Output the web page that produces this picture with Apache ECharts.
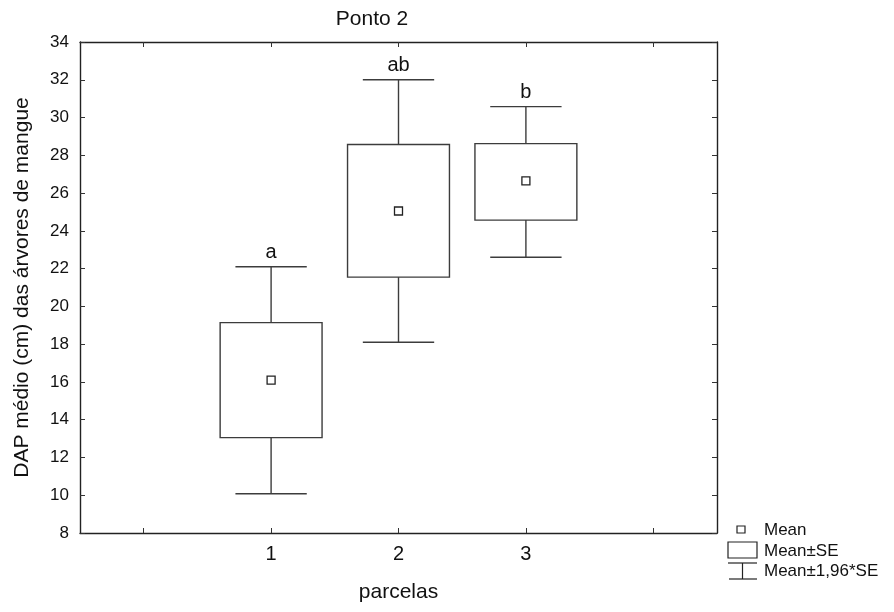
<!DOCTYPE html>
<html><head><meta charset="utf-8">
<script src="https://cdn.jsdelivr.net/npm/echarts@6/dist/echarts.min.js"></script>
<style>html,body{margin:0;padding:0;background:#fff}#c{width:894px;height:612px}</style>
</head><body><div id="c"></div>
<script>
const axisCategories = ['0', '1', '2', '3', '4'];
const shownLabels = ['1', '2', '3'];
const categories = ['1', '2', '3'];
const means = [16.1, 25.05, 26.65];
const seLow = [13.05, 21.55, 24.57];
const seHigh = [19.14, 28.57, 28.62];
const ciLow = [10.08, 18.1, 22.6];
const ciHigh = [22.1, 32.0, 30.58];
const groupLetters = ['a', 'ab', 'b'];
const yTicks = [8, 34, 2];

const LINE = '#3c3c3c';
const FONT = 'Liberation Sans, Arial, sans-serif';
const data = categories.map((c, i) => [c, means[i], seLow[i], seHigh[i], ciLow[i], ciHigh[i], groupLetters[i]]);

const chart = echarts.init(document.getElementById('c'), null, {renderer: 'canvas'});
const xCommon = {
  type: 'category', data: axisCategories, boundaryGap: true,
  axisLine: {show: true, onZero: false, lineStyle: {color: '#222', width: 1.4}},
  axisTick: {show: true, inside: true, alignWithLabel: true, length: 5, lineStyle: {color: '#333'}},
  splitLine: {show: false}
};
const yCommon = {
  type: 'value', min: yTicks[0], max: yTicks[1], interval: yTicks[2],
  axisLine: {show: true, onZero: false, lineStyle: {color: '#222', width: 1.4}},
  axisTick: {show: true, inside: true, length: 5, lineStyle: {color: '#333'}},
  splitLine: {show: false}
};
chart.setOption({
  animation: false,
  backgroundColor: '#fff',
  title: {text: 'Ponto 2', left: 367, top: 4, textAlign: 'center',
    textStyle: {fontFamily: FONT, fontSize: 21, fontWeight: 'normal', color: '#111'}},
  grid: {left: 80, top: 42, right: 177, bottom: 79, show: false},
  xAxis: [
    Object.assign({}, xCommon, {position: 'bottom',
      name: 'parcelas', nameLocation: 'middle', nameGap: 49,
      nameTextStyle: {fontFamily: FONT, fontSize: 21, color: '#111'},
      axisLabel: {show: true, interval: 0, margin: 11, fontFamily: FONT, fontSize: 20, color: '#111',
        formatter: v => shownLabels.indexOf(String(v)) >= 0 ? String(v) : ''}}),
    Object.assign({}, xCommon, {position: 'top', axisLabel: {show: false}})
  ],
  yAxis: [
    Object.assign({}, yCommon, {position: 'left',
      name: 'DAP médio (cm) das árvores de mangue', nameLocation: 'middle', nameGap: 47,
      nameTextStyle: {fontFamily: FONT, fontSize: 21, color: '#111'},
      axisLabel: {margin: 11, fontFamily: FONT, fontSize: 17, color: '#111'}}),
    Object.assign({}, yCommon, {position: 'right', axisLabel: {show: false}})
  ],
  series: [{
    type: 'custom',
    xAxisIndex: 0, yAxisIndex: 0,
    data: data,
    renderItem: function (params, api) {
      const x = api.value(0);
      const pm = api.coord([x, api.value(1)]);
      const pSeL = api.coord([x, api.value(2)]);
      const pSeH = api.coord([x, api.value(3)]);
      const pCiL = api.coord([x, api.value(4)]);
      const pCiH = api.coord([x, api.value(5)]);
      const unit = api.size([1, 0])[0];
      const bw = unit * 0.4, cw = unit * 0.28;
      const cx = pm[0];
      const ls = {stroke: LINE, lineWidth: 1.4, fill: null};
      return {type: 'group', children: [
        {type: 'line', shape: {x1: cx, y1: pCiH[1], x2: cx, y2: pSeH[1]}, style: ls},
        {type: 'line', shape: {x1: cx, y1: pSeL[1], x2: cx, y2: pCiL[1]}, style: ls},
        {type: 'line', shape: {x1: cx - cw, y1: pCiH[1], x2: cx + cw, y2: pCiH[1]}, style: ls},
        {type: 'line', shape: {x1: cx - cw, y1: pCiL[1], x2: cx + cw, y2: pCiL[1]}, style: ls},
        {type: 'rect', shape: {x: cx - bw, y: pSeH[1], width: 2 * bw, height: pSeL[1] - pSeH[1]},
          style: {stroke: LINE, lineWidth: 1.4, fill: '#fff'}},
        {type: 'rect', shape: {x: cx - 4, y: pm[1] - 4, width: 8, height: 8},
          style: {stroke: '#222', lineWidth: 1.3, fill: '#fff'}},
        {type: 'text', x: cx, y: pCiH[1] - 4,
          style: {text: api.value(6), fontFamily: FONT, fontSize: 20, fill: '#111',
            align: 'center', verticalAlign: 'bottom'}}
      ]};
    },
    dimensions: [{name: 'x', type: 'ordinal'}, 'mean', 'seL', 'seH', 'ciL', 'ciH', {name: 'letter', type: 'ordinal'}],
    encode: {x: 0, y: [1, 2, 3, 4, 5]}
  }],
  graphic: [
    {type: 'rect', shape: {x: 737, y: 526, width: 8, height: 7}, style: {stroke: '#222', lineWidth: 1.2, fill: '#fff'}},
    {type: 'text', x: 764, y: 530, style: {text: 'Mean', fontFamily: FONT, fontSize: 17, fill: '#111', verticalAlign: 'middle'}},
    {type: 'rect', shape: {x: 728, y: 542, width: 29, height: 16}, style: {stroke: '#222', lineWidth: 1.2, fill: '#fff'}},
    {type: 'text', x: 764, y: 551, style: {text: 'Mean±SE', fontFamily: FONT, fontSize: 17, fill: '#111', verticalAlign: 'middle'}},
    {type: 'line', shape: {x1: 728, y1: 563, x2: 757, y2: 563}, style: {stroke: '#222', lineWidth: 1.2}},
    {type: 'line', shape: {x1: 742.5, y1: 563, x2: 742.5, y2: 579}, style: {stroke: '#222', lineWidth: 1.2}},
    {type: 'line', shape: {x1: 729, y1: 579, x2: 757, y2: 579}, style: {stroke: '#222', lineWidth: 1.2}},
    {type: 'text', x: 764, y: 571, style: {text: 'Mean±1,96*SE', fontFamily: FONT, fontSize: 17, fill: '#111', verticalAlign: 'middle'}}
  ]
});
</script></body></html>
